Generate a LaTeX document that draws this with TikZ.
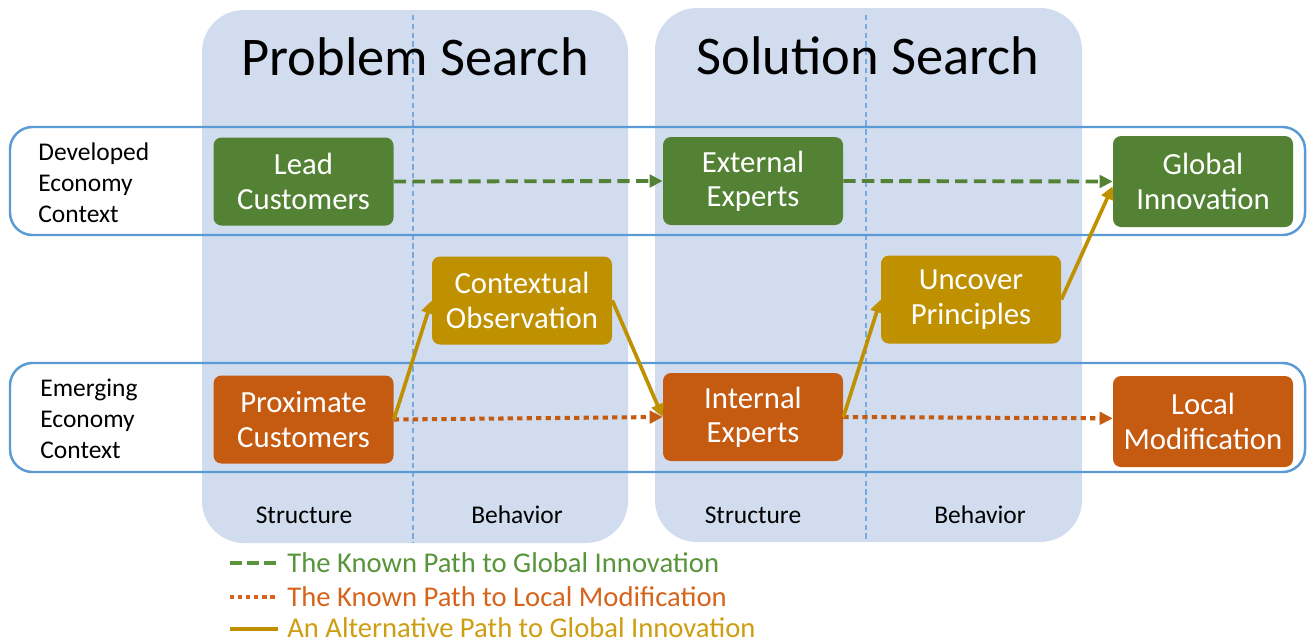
\documentclass[tikz,border=0pt]{standalone}
\usepackage{fontspec}
\setmainfont{Carlito}
\usetikzlibrary{arrows.meta}

\definecolor{panelblue}{RGB}{209,221,238}
\definecolor{lineblue}{RGB}{91,155,213}
\definecolor{divblue}{RGB}{120,170,222}
\definecolor{boxgreen}{RGB}{84,130,53}
\definecolor{boxgold}{RGB}{191,144,0}
\definecolor{boxorange}{RGB}{197,90,17}
\definecolor{leggreen}{RGB}{88,148,58}
\definecolor{legorange}{RGB}{214,100,28}
\definecolor{leggold}{RGB}{206,158,18}

\begin{document}
\begin{tikzpicture}[
    % Estilos de paneles, bandas y cajas
    panel/.style={fill=panelblue, draw=none, rounded corners=0.84cm},
    divider/.style={draw=divblue, line width=0.6pt, dash pattern=on 3pt off 2pt},
    band/.style={draw=lineblue, line width=1.4pt, rounded corners=0.45cm},
    block/.style={rectangle, rounded corners=1.6mm, minimum width=3.6cm, minimum height=1.76cm, inner sep=0pt, align=center, text=white, font=\fontsize{17.5}{19.5}\selectfont},
    greenbox/.style={block, fill=boxgreen},
    goldbox/.style={block, fill=boxgold},
    orangebox/.style={block, fill=boxorange},
    heading/.style={font=\fontsize{31}{36}\selectfont, anchor=base},
    texto/.style={font=\fontsize{14.5}{17.6}\selectfont, align=left, inner sep=0pt, text=black},
    legendtxt/.style={font=\fontsize{16.3}{19}\selectfont, anchor=west, inner sep=0pt},
    knownpath/.style={-{Triangle[length=2.6mm, width=2.5mm]}, line width=2.2pt, draw=boxgreen, dash pattern=on 7pt off 3.6pt},
    localpath/.style={-{Triangle[length=2.6mm, width=2.5mm]}, line width=2.3pt, draw=boxorange, dash pattern=on 3pt off 2.4pt},
    altpath/.style={-{Triangle[length=2.6mm, width=2.5mm]}, line width=2.1pt, draw=boxgold}
]
\useasboundingbox (0,0) rectangle (26.16,-12.84);

% --- PANELES DE BUSQUEDA ---
\path[panel] (4.04,-0.2) rectangle (12.56,-10.86);
\path[panel] (13.1,-0.16) rectangle (21.64,-10.84);
\draw[divider] (8.26,-0.3) -- (8.26,-10.86);
\draw[divider] (17.32,-0.3) -- (17.32,-10.84);

\node[heading] (probtitle) at (8.3,-1.5) {Problem Search};
\node[heading] (soltitle) at (17.36,-1.48) {Solution Search};

\node[texto] (struct1) at (6.08,-10.3) {Structure};
\node[texto] (behav1) at (10.34,-10.3) {Behavior};
\node[texto] (struct2) at (15.06,-10.3) {Structure};
\node[texto] (behav2) at (19.6,-10.3) {Behavior};

% --- BANDAS DE CONTEXTO ---
\draw[band] (0.2,-2.54) rectangle (26.1,-4.7);
\draw[band] (0.2,-7.26) rectangle (26.1,-9.44);

\node[texto, anchor=west] (devtext) at (0.76,-3.66) {Developed\\Economy\\Context};
\node[texto, anchor=west] (emertext) at (0.8,-8.37) {Emerging\\Economy\\Context};

% --- CAJAS ---
\node[greenbox] (lead) at (6.07,-3.63) {Lead\\Customers};
\node[greenbox] (external) at (15.06,-3.62) {External\\Experts};
\node[greenbox, minimum height=1.82cm] (global) at (24.06,-3.63) {Global\\Innovation};

\node[goldbox] (contextual) at (10.44,-6.01) {Contextual\\Observation};
\node[goldbox] (uncover) at (19.42,-5.99) {Uncover\\Principles};

\node[orangebox] (proximate) at (6.07,-8.39) {Proximate\\Customers};
\node[orangebox] (internal) at (15.06,-8.34) {Internal\\Experts};
\node[orangebox, minimum height=1.82cm] (local) at (24.06,-8.43) {Local\\Modification};

% --- CAMINOS ---
\draw[knownpath] (lead.east) -- (external.west);
\draw[knownpath] (external.east) -- (global.west);

\draw[localpath] (proximate.east) -- (internal.west);
\draw[localpath] (internal.east) -- (local.178);

\draw[altpath] (proximate.east) -- (contextual.west);
\draw[altpath] (contextual.east) -- (internal.west);
\draw[altpath] (internal.east) -- (uncover.west);
\draw[altpath] (uncover.east) -- (global.183);

% --- LEYENDA ---
\coordinate (k1) at (4.6,-11.26);
\coordinate (k2) at (5.56,-11.26);
\coordinate (l1) at (4.6,-11.94);
\coordinate (l2) at (5.56,-11.94);
\coordinate (a1) at (4.6,-12.58);
\coordinate (a2) at (5.56,-12.58);

\draw[draw=leggreen, line width=2.6pt, dash pattern=on 7pt off 2.6pt] (k1) -- (k2);
\draw[draw=legorange, line width=2.6pt, dash pattern=on 2.4pt off 2.2pt] (l1) -- (l2);
\draw[draw=boxgold, line width=2.6pt] (a1) -- (a2);

\node[legendtxt, text=leggreen] (legknown) at (5.74,-11.26) {The Known Path to Global Innovation};
\node[legendtxt, text=legorange] (leglocal) at (5.74,-11.94) {The Known Path to Local Modification};
\node[legendtxt, text=leggold] (legalt) at (5.74,-12.56) {An Alternative Path to Global Innovation};

\end{tikzpicture}
\end{document}
